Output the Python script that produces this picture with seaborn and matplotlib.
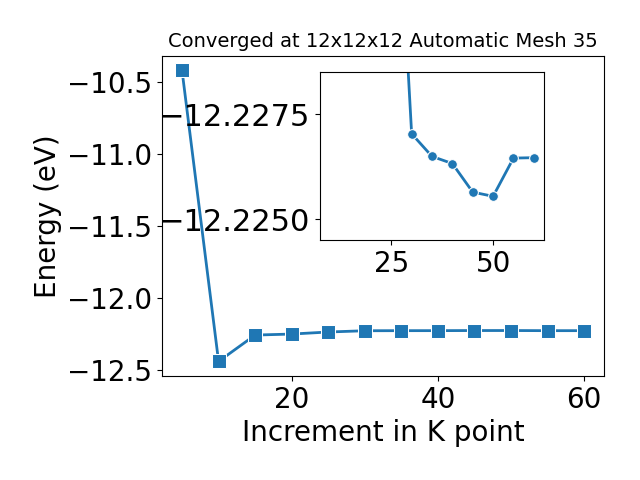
import seaborn as sns
import matplotlib.pyplot as plt

# k-point convergence data
kpoints = [5, 10, 15, 20, 25, 30, 35, 40, 45, 50, 55, 60]
energy = [-10.42, -12.44, -12.257, -12.250, -12.2358, -12.22703, -12.22649,
          -12.22632, -12.22564, -12.22554, -12.22645, -12.22646]

fig = plt.figure(figsize=(6.4, 4.8), dpi=100)
ax = fig.add_axes([0.253, 0.2167, 0.691, 0.667])

sns.lineplot(x=kpoints, y=energy, marker='s', markersize=10, linewidth=2,
             color='#1f77b4', ax=ax)
ax.set_xlabel('Increment in K point', fontsize=20)
ax.set_ylabel('Energy (eV)', fontsize=20)
ax.set_title('Converged at 12x12x12 Automatic Mesh 35', fontsize=14)
ax.tick_params(labelsize=20)

# zoomed inset (skips the first point)
ax_in = fig.add_axes([0.5, 0.5, 0.35, 0.35])
sns.lineplot(x=kpoints[1:], y=energy[1:], marker='o', markersize=7, linewidth=2,
             color='#1f77b4', ax=ax_in)
ax_in.set_ylim(-12.2245, -12.2285)
ax_in.set_xticks([25, 50])
ax_in.set_yticks([-12.2275, -12.2250])
ax_in.ticklabel_format(axis='y', useOffset=False)
ax_in.tick_params(axis='x', labelsize=20)
ax_in.tick_params(axis='y', labelsize=22)

plt.savefig('out.png', dpi=100)
print("saved out.png")
